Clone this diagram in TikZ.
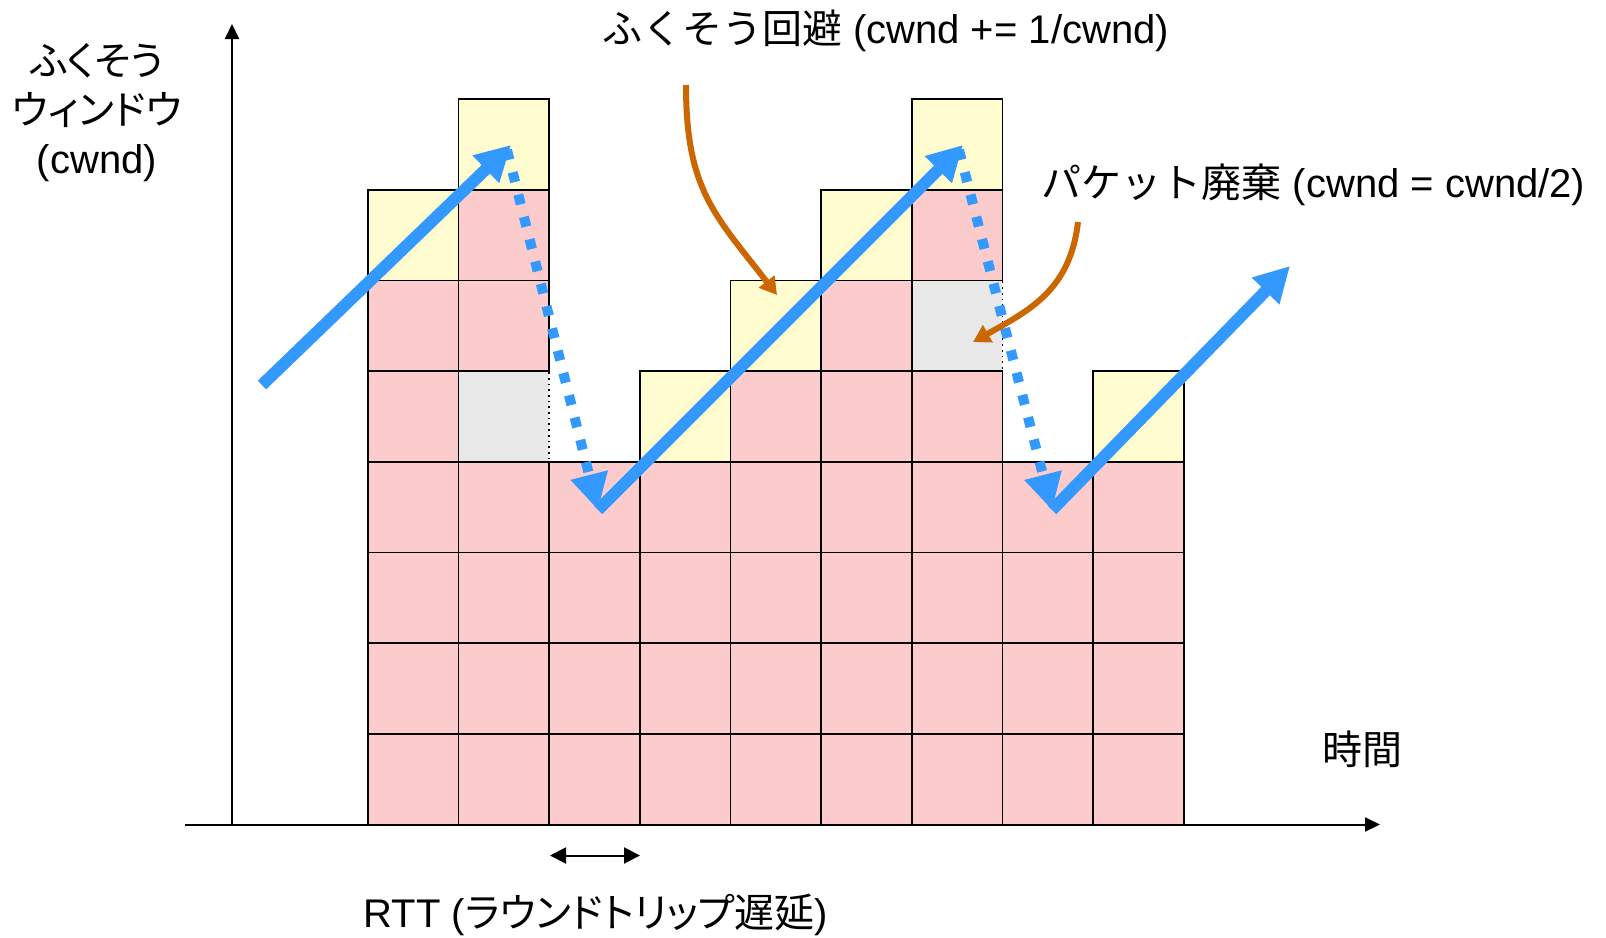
\documentclass[tikz,border=0pt]{standalone}
\usepackage{fontspec}
\setmainfont{Liberation Sans}
\newfontfamily\jp{Noto Sans CJK JP}
\newfontfamily\jpp[RawFeature={+palt}]{Noto Sans CJK JP}
\usetikzlibrary{arrows.meta}
\definecolor{cellpink}{HTML}{FCCBCB}
\definecolor{cellyellow}{HTML}{FFFDD0}
\definecolor{cellgray}{HTML}{E8E8E8}
\definecolor{arrowblue}{HTML}{3399FF}
\definecolor{arroworange}{HTML}{CC6600}
\newcommand\cellat[3]{\filldraw[cellbox,fill=#3] ({\xo+#1*\cw},{\yb-#2*\cw}) rectangle ({\xo+(#1+1)*\cw},{\yb-(#2+1)*\cw});}
\begin{document}
\begin{tikzpicture}[x=0.5pt,y=-0.5pt,
  cellbox/.style={draw=black,line width=0.85pt},
  graybox/.style={draw=black,line width=0.85pt,dotted,fill=cellgray},
  axisline/.style={draw=black,line width=1pt,-{Triangle[length=7.5pt,width=7pt]}},
  rttline/.style={draw=black,line width=1pt,{Triangle[length=8pt,width=8pt]}-{Triangle[length=8pt,width=8pt]}},
  bluearrow/.style={draw=arrowblue,line width=6pt,-{Triangle[length=17.5pt,width=18pt]}},
  bluedots/.style={draw=arrowblue,line width=5pt,dash pattern=on 5pt off 6.5pt,-{Triangle[length=18pt,width=18pt]}},
  orangearrow/.style={draw=arroworange,line width=3pt,-{Triangle[length=8.5pt,width=9.5pt]}},
  lbl/.style={inner sep=0pt,font=\fontsize{20}{24.5}\selectfont}]
\useasboundingbox (0,0) rectangle (1606,937);
\def\cw{90.68}
\def\xo{367.7}
\def\yb{824.5}
% gray (discarded) cells
\foreach \c/\r in {1/4,6/5}
  \filldraw[graybox] ({\xo+\c*\cw},{\yb-\r*\cw}) rectangle ({\xo+(\c+1)*\cw},{\yb-(\r+1)*\cw});
% pink stacks
\foreach \c/\n in {0/5,1/3,2/3,3/3,4/4,5/5,6/4,7/3,8/3}
  \foreach \r in {0,...,\n} {\cellat{\c}{\r}{cellpink}}
\cellat{1}{5}{cellpink}
\cellat{1}{6}{cellpink}
\cellat{6}{6}{cellpink}
% yellow cells
\foreach \c/\r in {0/6,1/7,3/4,4/5,5/6,6/7,8/4} {\cellat{\c}{\r}{cellyellow}}
% axes
\coordinate (xstart) at (185,824.5);
\coordinate (xend) at (1380,824.5);
\coordinate (org) at (232,824.5);
\coordinate (ytop) at (232,24);
\draw[axisline] (xstart) -- (xend);
\draw[axisline] (org) -- (ytop);
% RTT arrow
\coordinate (r1) at (550,855.5);
\coordinate (r2) at (640,855.5);
\draw[rttline] (r1) -- (r2);
% blue arrows
\coordinate (a1s) at (262,385);
\coordinate (a1e) at (511,145);
\coordinate (d1s) at (507,150);
\coordinate (d1e) at (598,510);
\coordinate (a2e) at (963,145);
\coordinate (d2s) at (959,150);
\coordinate (d2e) at (1052,510);
\coordinate (a3e) at (1290,266);
\draw[bluedots] (d1s) -- (d1e);
\draw[bluedots] (d2s) -- (d2e);
\draw[bluearrow] (a1s) -- (a1e);
\draw[bluearrow] (d1e) -- (a2e);
\draw[bluearrow] (d2e) -- (a3e);
% orange arrows
\coordinate (o1s) at (686,85);
\coordinate (o1e) at (777,295);
\coordinate (o2s) at (1078,222);
\coordinate (o2e) at (973,342);
\draw[orangearrow] (o1s) .. controls (686,190) and (715,215) .. (o1e);
\draw[orangearrow] (o2s) .. controls (1070,290) and (1030,310) .. (o2e);
% labels
\node[lbl] (t1) at (885.5,31) {{\jp ふくそう回避} (cwnd += 1/cwnd)};
\node[lbl] (t2) at (1313.5,185) {{\jp パケット廃棄} (cwnd = cwnd/2)};
\node[lbl,align=center] (yl) at (97,112.7) {{\jpp ふくそう}\\{\jpp ウィンドウ}\\(cwnd)};
\node[lbl] (tx) at (1362,749) {\jp 時間};
\node[lbl] (rtt) at (596,915) {RTT ({\jpp ラウンドトリップ遅延})};
\end{tikzpicture}
\end{document}
